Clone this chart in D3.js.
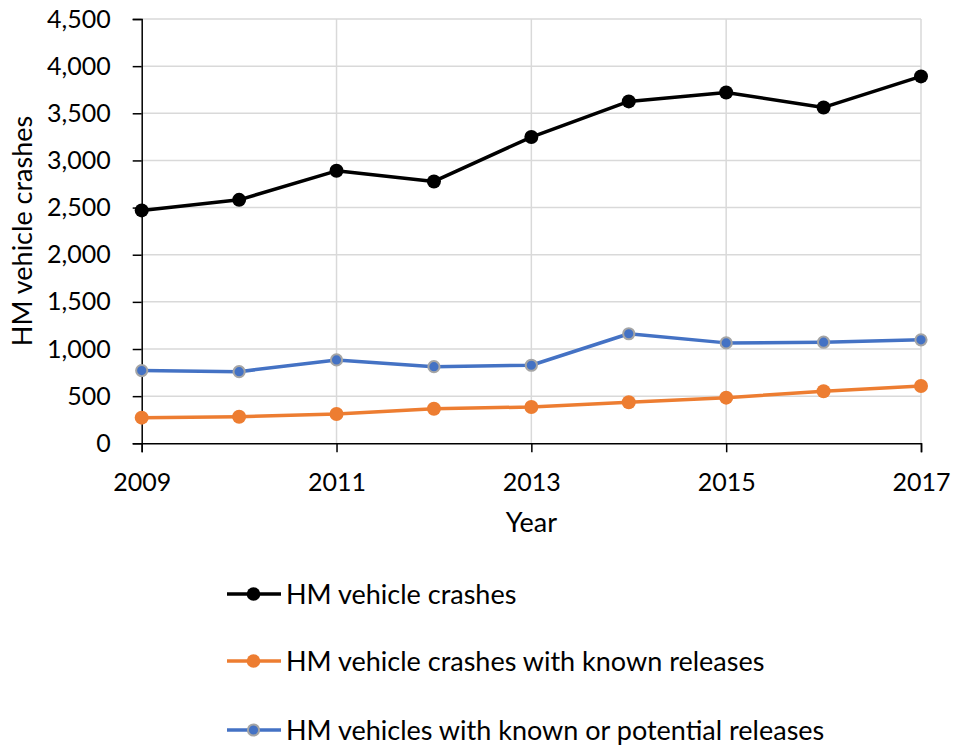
<!DOCTYPE html>
<html>
<head>
<meta charset="utf-8">
<script src="https://cdn.jsdelivr.net/npm/d3@7"></script>
<style>
  html, body { margin: 0; padding: 0; background: #fff; }
  svg { display: block; font-family: Lato, "Open Sans", sans-serif; }
</style>
</head>
<body>
<svg id="chart" width="954" height="746"></svg>
<script>
// Hazardous-materials vehicle crash counts by year
const years = [2009, 2010, 2011, 2012, 2013, 2014, 2015, 2016, 2017];
const crashes = [2470, 2582, 2890, 2777, 3248, 3626, 3721, 3562, 3891];
const knownReleases = [272, 282, 311, 367, 385, 435, 484, 552, 608];
const knownOrPotential = [771, 760, 884, 813, 828, 1162, 1065, 1072, 1097];
const yTicks = [0, 500, 1000, 1500, 2000, 2500, 3000, 3500, 4000, 4500];
const xTicks = [2009, 2011, 2013, 2015, 2017];

const series = [
  { name: "HM vehicle crashes", values: crashes, color: "#000000", marker: "#000000", ring: null },
  { name: "HM vehicle crashes with known releases", values: knownReleases, color: "#ED7D31", marker: "#ED7D31", ring: null },
  { name: "HM vehicles with known or potential releases", values: knownOrPotential, color: "#4472C4", marker: "#4472C4", ring: "#A5A5A5" }
];

const svg = d3.select("#chart");
const plot = { left: 141.7, right: 921, top: 19, bottom: 443.3 };
const tickFont = 25, titleFont = 27;

const x = d3.scaleLinear().domain([2009, 2017]).range([plot.left, plot.right]);
const y = d3.scaleLinear().domain([0, 4500]).range([plot.bottom, plot.top]);

// gridlines
const grid = svg.append("g");
grid.selectAll("line.h").data(yTicks.filter(d => d > 0)).join("line")
  .attr("x1", plot.left).attr("x2", plot.right)
  .attr("y1", d => y(d)).attr("y2", d => y(d))
  .attr("stroke", "#d9d9d9").attr("stroke-width", 1.5);
grid.selectAll("line.v").data(xTicks.filter(d => d > 2009)).join("line")
  .attr("x1", d => x(d)).attr("x2", d => x(d))
  .attr("y1", plot.top).attr("y2", plot.bottom)
  .attr("stroke", "#d9d9d9").attr("stroke-width", 1.5);

// y axis
const yAxis = svg.append("g")
  .attr("transform", `translate(${plot.left},0)`)
  .call(d3.axisLeft(y).tickValues(yTicks).tickFormat(d3.format(",")).tickSize(9).tickPadding(22));
yAxis.select(".domain").attr("stroke", "#000").attr("stroke-width", 1.5);
yAxis.selectAll(".tick line").attr("stroke", "#000").attr("stroke-width", 1.5);
yAxis.selectAll(".tick text").attr("font-size", tickFont).attr("fill", "#000")
  .attr("font-family", "Lato, 'Open Sans', sans-serif");

// x axis
const xAxis = svg.append("g")
  .attr("transform", `translate(0,${plot.bottom})`)
  .call(d3.axisBottom(x).tickValues(xTicks).tickFormat(d3.format("d")).tickSize(9).tickPadding(21));
xAxis.select(".domain").attr("stroke", "#000").attr("stroke-width", 1.5);
xAxis.selectAll(".tick line").attr("stroke", "#000").attr("stroke-width", 1.5);
xAxis.selectAll(".tick text").attr("font-size", tickFont).attr("fill", "#000")
  .attr("font-family", "Lato, 'Open Sans', sans-serif");

// axis titles
svg.append("text").attr("x", (plot.left + plot.right) / 2).attr("y", 532)
  .attr("text-anchor", "middle").attr("font-size", titleFont).text("Year");
svg.append("text")
  .attr("transform", `translate(32,231) rotate(-90)`)
  .attr("text-anchor", "middle").attr("font-size", titleFont).text("HM vehicle crashes");

// lines and markers
const line = d3.line().x((d, i) => x(years[i])).y(d => y(d));
series.forEach(s => {
  svg.append("path").datum(s.values)
    .attr("d", line).attr("fill", "none")
    .attr("stroke", s.color).attr("stroke-width", 3.5)
    .attr("stroke-linejoin", "round");
  svg.append("g").selectAll("circle").data(s.values).join("circle")
    .attr("cx", (d, i) => x(years[i])).attr("cy", d => y(d))
    .attr("r", s.ring ? 5.6 : 7)
    .attr("fill", s.marker)
    .attr("stroke", s.ring || "none").attr("stroke-width", s.ring ? 2 : 0);
});

// legend
const legendRows = [594, 661, 730];
const lg = svg.append("g");
series.forEach((s, i) => {
  const yy = legendRows[i];
  lg.append("line").attr("x1", 227).attr("x2", 281).attr("y1", yy).attr("y2", yy)
    .attr("stroke", s.color).attr("stroke-width", 3.5);
  lg.append("circle").attr("cx", 253.5).attr("cy", yy)
    .attr("r", s.ring ? 5.6 : 6.8)
    .attr("fill", s.marker)
    .attr("stroke", s.ring || "none").attr("stroke-width", s.ring ? 2 : 0);
  lg.append("text").attr("x", 286).attr("y", yy + 9.5)
    .attr("font-size", titleFont).attr("fill", "#000").text(s.name);
});
</script>
</body>
</html>
